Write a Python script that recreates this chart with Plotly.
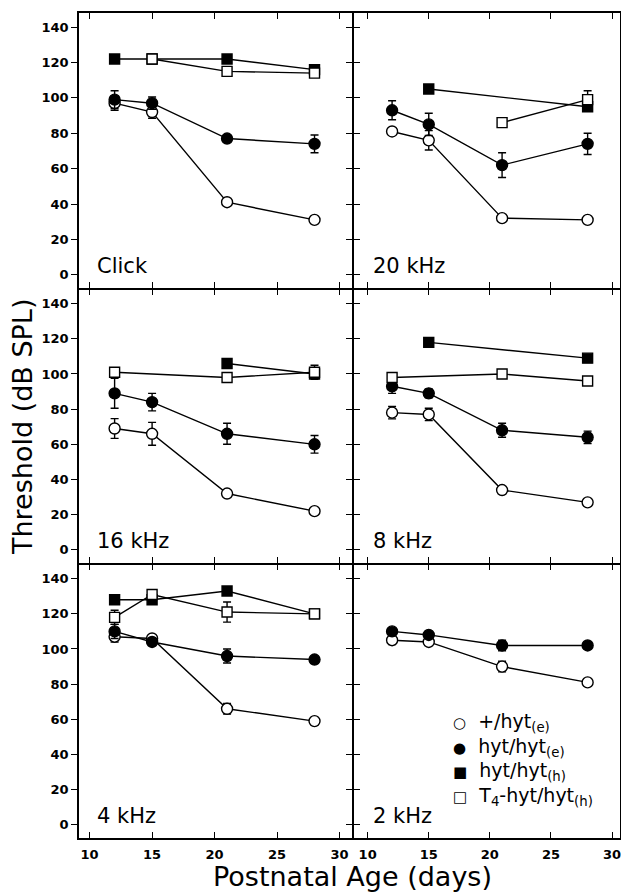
import plotly.graph_objects as go
from plotly.subplots import make_subplots

days = [12, 15, 21, 28]
panels = ["Click", "20 kHz", "16 kHz", "8 kHz", "4 kHz", "2 kHz"]
series_names = ["+/hyt<sub>(e)</sub>", "hyt/hyt<sub>(e)</sub>",
                "hyt/hyt<sub>(h)</sub>", "T<sub>4</sub>-hyt/hyt<sub>(h)</sub>"]
legend_glyphs = ["○", "●", "■", "□"]

# values per panel: +/hyt(e) (open circle), hyt/hyt(e) (filled circle),
# hyt/hyt(h) (filled square), T4-hyt/hyt(h) (open square)
click_oc = [97, 92, 41, 31];      click_oc_err = [4, 3.5, 0, 0]
click_fc = [99, 97, 77, 74];      click_fc_err = [5, 3.5, 2, 5]
click_fs = [122, 122, 122, 116];  click_fs_err = [0, 0, 0, 0]
click_os = [None, 122, 115, 114]; click_os_err = [0, 0, 0, 0]

k20_oc = [81, 76, 32, 31];        k20_oc_err = [0, 5.5, 0, 0]
k20_fc = [93, 85, 62, 74];        k20_fc_err = [5.4, 6.3, 7, 6]
k20_fs = [None, 105, None, 95];   k20_fs_err = [0, 0, 0, 0]
k20_os = [None, None, 86, 99];    k20_os_err = [0, 0, 0, 5]

k16_oc = [69, 66, 32, 22];        k16_oc_err = [5.6, 6.5, 0, 0]
k16_fc = [89, 84, 66, 60];        k16_fc_err = [8.5, 5, 6, 5]
k16_fs = [None, None, 106, 100];  k16_fs_err = [0, 0, 0, 0]
k16_os = [101, None, 98, 101];    k16_os_err = [0, 0, 0, 4]

k8_oc = [78, 77, 34, 27];         k8_oc_err = [3.5, 3.5, 0, 0]
k8_fc = [93, 89, 68, 64];         k8_fc_err = [4, 2.5, 4, 3.5]
k8_fs = [None, 118, None, 109];   k8_fs_err = [0, 0, 0, 0]
k8_os = [98, None, 100, 96];      k8_os_err = [0, 0, 0, 0]

k4_oc = [107, 106, 66, 59];       k4_oc_err = [3, 0, 3, 0]
k4_fc = [110, 104, 96, 94];       k4_fc_err = [4, 2, 4, 0]
k4_fs = [128, 128, 133, 120];     k4_fs_err = [0, 0, 0, 0]
k4_os = [118, 131, 121, 120];     k4_os_err = [4, 0, 5.7, 0]

k2_oc = [105, 104, 90, 81];       k2_oc_err = [2.5, 0, 3, 0]
k2_fc = [110, 108, 102, 102];     k2_fc_err = [0, 0, 3, 0]

panel_data = [
    [(click_oc, click_oc_err), (click_fc, click_fc_err), (click_fs, click_fs_err), (click_os, click_os_err)],
    [(k20_oc, k20_oc_err), (k20_fc, k20_fc_err), (k20_fs, k20_fs_err), (k20_os, k20_os_err)],
    [(k16_oc, k16_oc_err), (k16_fc, k16_fc_err), (k16_fs, k16_fs_err), (k16_os, k16_os_err)],
    [(k8_oc, k8_oc_err), (k8_fc, k8_fc_err), (k8_fs, k8_fs_err), (k8_os, k8_os_err)],
    [(k4_oc, k4_oc_err), (k4_fc, k4_fc_err), (k4_fs, k4_fs_err), (k4_os, k4_os_err)],
    [(k2_oc, k2_oc_err), (k2_fc, k2_fc_err), None, None],
]

y_ticks = [0, 20, 40, 60, 80, 100, 120, 140]
x_ticks = [10, 15, 20, 25, 30]

LW = 1.6
styles = [
    dict(symbol="circle", size=11, color="white", line=dict(color="black", width=1.4)),
    dict(symbol="circle", size=11, color="black", line=dict(color="black", width=1.4)),
    dict(symbol="square", size=10, color="black", line=dict(color="black", width=1.4)),
    dict(symbol="square", size=10, color="white", line=dict(color="black", width=1.4)),
]

FONT = "DejaVu Sans"

fig = make_subplots(rows=3, cols=2, horizontal_spacing=0, vertical_spacing=0)

for i, pdata in enumerate(panel_data):
    r, c = i // 2 + 1, i % 2 + 1
    for s, entry in enumerate(pdata):
        if entry is None:
            continue
        vals, errs = entry
        fig.add_trace(go.Scatter(
            x=days, y=vals, mode="lines+markers", connectgaps=True,
            line=dict(color="black", width=1.4),
            marker=styles[s],
            error_y=dict(type="data", array=errs, visible=True, color="black",
                         thickness=1.4, width=4),
            showlegend=False, hoverinfo="x+y",
        ), row=r, col=c)

# the page has the browser's 8px body margin; the figure fits the remaining width
OFF = 8
W, H = 629 - 2 * OFF, 894 - OFF
PL, PR, PT, PB = 79, 620, 13, 838   # plot area in page pixels
ml, mr, mt, mb = PL - OFF, W - (PR - OFF), PT - OFF, H - (PB - OFF)
pw = PR - PL
ph = PB - PT
SPLIT = 352
ROWB = [PT + ph / 3, PT + 2 * ph / 3]

def xfrac(px):
    return (px - PL) / pw

def yfrac(py):
    return (PB - py) / ph

x_domains = [[0, xfrac(SPLIT)], [xfrac(SPLIT + LW), 1]]
y_domains = [[yfrac(ROWB[0]), 1],
             [yfrac(ROWB[1]), yfrac(ROWB[0] + LW)],
             [0, yfrac(ROWB[1] + LW)]]

for i in range(6):
    r, c = i // 2 + 1, i % 2 + 1
    xr = [9.15, 31.0] if c == 1 else [8.85, 30.65]
    fig.update_xaxes(domain=x_domains[c - 1], range=xr, tickvals=x_ticks,
                     showticklabels=(r == 3), ticks="inside", ticklen=6, tickwidth=1.4,
                     tickcolor="black", showline=True, linecolor="black", linewidth=LW,
                     mirror="ticks", showgrid=False, zeroline=False, automargin=False,
                     ticklabeloverflow="allow", ticklabelstandoff=4,
                     tickfont=dict(family=FONT, size=13, color="black", weight="bold"),
                     row=r, col=c)
    fig.update_yaxes(domain=y_domains[r - 1], range=[-7.5, 148], tickvals=y_ticks,
                     showticklabels=(c == 1), ticks="outside", ticklen=6, tickwidth=1.4,
                     tickcolor="black", showline=True, linecolor="black", linewidth=LW,
                     mirror="ticks", showgrid=False, zeroline=False, automargin=False,
                     tickfont=dict(family=FONT, size=13, color="black", weight="bold"),
                     row=r, col=c)
    xref = "x domain" if i == 0 else f"x{i+1} domain"
    yref = "y domain" if i == 0 else f"y{i+1} domain"
    fig.add_annotation(text=panels[i], xref=xref, yref=yref,
                       x=0.058 if c == 1 else 0.065, y=0.03,
                       xanchor="left", yanchor="bottom", showarrow=False,
                       font=dict(family=FONT, size=21, color="black"))

# legend drawn as a text block inside the 2 kHz panel
legend_lines = [f'<span style="font-size:15px">{g}</span>  {n}'
                for g, n in zip(legend_glyphs, series_names)]
fig.add_annotation(text="<br>".join(legend_lines), xref="x6 domain", yref="y6 domain",
                   x=(450 - SPLIT) / (PR - SPLIT), y=(PB - 759) / (ph / 3),
                   xanchor="left", yanchor="middle", align="left", showarrow=False,
                   font=dict(family=FONT, size=19, color="black"))

fig.add_annotation(text="Postnatal Age (days)", xref="paper", yref="paper",
                   x=xfrac(352), y=yfrac(894), xanchor="center", yanchor="bottom",
                   showarrow=False, font=dict(family=FONT, size=27, color="black"))
fig.add_annotation(text="Threshold (dB SPL)", xref="paper", yref="paper",
                   x=xfrac(22), y=yfrac(427), xanchor="center", yanchor="middle",
                   textangle=-90, showarrow=False,
                   font=dict(family=FONT, size=27, color="black"))

fig.update_layout(
    width=W, height=H, margin=dict(l=ml, r=mr, t=mt, b=mb, pad=0),
    paper_bgcolor="white", plot_bgcolor="white",
    showlegend=False,
)

fig.write_html("out.html")
